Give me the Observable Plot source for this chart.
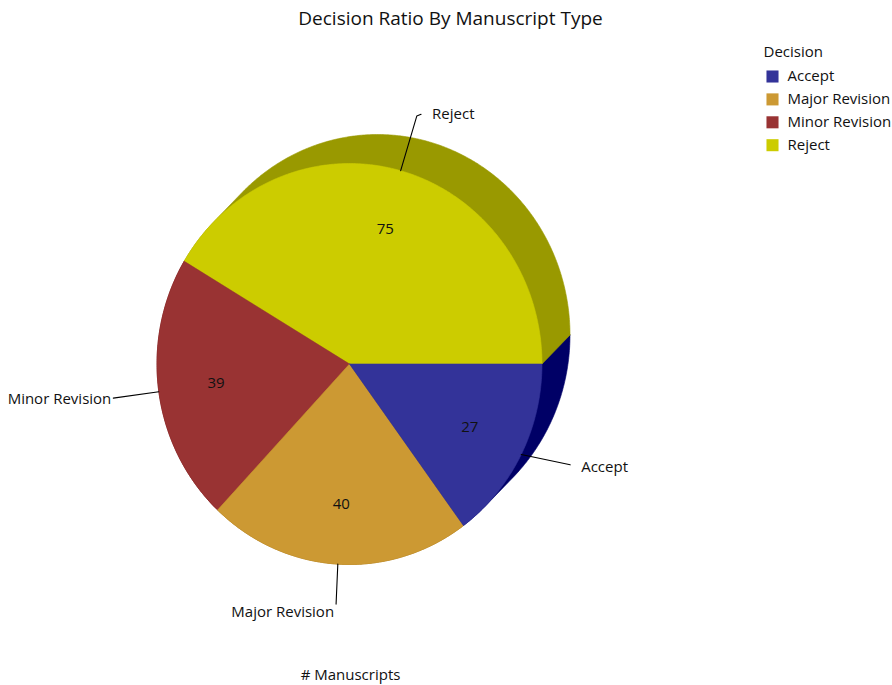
<!DOCTYPE html>
<html>
<head>
<meta charset="utf-8">
<script src="https://cdn.jsdelivr.net/npm/d3@7"></script>
<script src="https://cdn.jsdelivr.net/npm/@observablehq/plot@0.6"></script>
<style>
  body { margin: 0; background: #fff; }
  #chart svg { display: block; }
</style>
</head>
<body>
<div id="chart"></div>
<script>
// ---- data ----
const categories = ["Accept", "Major Revision", "Minor Revision", "Reject"];
const values = [27, 40, 39, 75];
const frontColors = ["#333399", "#cc9933", "#993333", "#cccc00"];
const sideColors = ["#000066", "#996600", "#660000", "#999900"];
const chartTitle = "Decision Ratio By Manuscript Type";
const legendTitle = "Decision";
const seriesLabel = "# Manuscripts";

// ---- layout ----
const W = 892, H = 685;
const cx = 349, cy = 363.5, rx = 192.5, ry = 200.5;
const depth = [28, -29];
const FONT = "'Open Sans', 'Noto Sans', sans-serif";
const FS = 15;
const leaderLayout = {
  "Reject":         {len: 57, turn: -1, hook: [4.3, -1.7], anchor: "start", tdx: 11, tdy: 0},
  "Minor Revision": {len: 46, turn: 0,  hook: [0, 0],      anchor: "end",   tdx: -2, tdy: 1.5},
  "Major Revision": {len: 40, turn: 1,  hook: [0, 0],      anchor: "end",   tdx: -2, tdy: 8.5},
  "Accept":         {len: 50, turn: 15, hook: [0, 0],      anchor: "start", tdx: 11, tdy: 2.4}
};

const rows = categories.map((c, i) => ({category: c, value: values[i], color: frontColors[i], side: sideColors[i], i}));
// slices start at 3 o'clock with Reject, going counter-clockwise
const arcs = d3.pie().sort(null).value(d => d.value)(rows.slice().reverse());
const toXY = (a, k = 1) => [cx + k * rx * Math.cos(a), cy - k * ry * Math.sin(a)];
const depthAngle = Math.atan2(-depth[1], depth[0]);

const front = [], inside = [], leaders = [], outside = [], sideGroups = [];
for (const a of arcs) {
  const span = a.endAngle - a.startAngle;
  const n = Math.max(2, Math.ceil(span / (Math.PI / 360)));
  const pts = [[cx, cy]];
  for (let k = 0; k <= n; k++) pts.push(toXY(a.startAngle + span * k / n));
  pts.push([cx, cy]);
  pts.forEach(([x, y]) => front.push({key: a.data.category, x, y, fill: a.data.color}));
  const hull = d3.polygonHull(pts.concat(pts.map(([x, y]) => [x + depth[0], y + depth[1]])));
  hull.push(hull[0]);
  const mid = (a.startAngle + a.endAngle) / 2;
  sideGroups.push({order: Math.cos(mid - depthAngle), pts: hull.map(([x, y]) => ({key: a.data.category, x, y, fill: a.data.side}))});

  const [ix, iy] = toXY(mid, 0.7);
  inside.push({x: ix, y: iy, text: String(a.data.value)});

  const L = leaderLayout[a.data.category];
  const [sx, sy] = toXY(mid);
  const dir = mid + L.turn * Math.PI / 180;
  const ex = sx + L.len * Math.cos(dir), ey = sy - L.len * Math.sin(dir);
  const hx = ex + L.hook[0], hy = ey + L.hook[1];
  leaders.push({key: a.data.category, x: sx, y: sy}, {key: a.data.category, x: ex, y: ey}, {key: a.data.category, x: hx, y: hy});
  outside.push({x: hx + L.tdx, y: hy + L.tdy, text: a.data.category, anchor: L.anchor});
}
// painter's order: side walls facing the extrusion direction are drawn last
const sides = sideGroups.sort((p, q) => p.order - q.order).flatMap(g => g.pts);

const legendRows = rows.map((d, i) => ({x: 772, y: 76 + i * 22.9, tx: 787, color: d.color, text: d.category}));

const chart = Plot.plot({
  width: W,
  height: H,
  margin: 0,
  x: {domain: [0, W], range: [0, W], axis: null},
  y: {domain: [0, H], range: [0, H], axis: null},
  color: {type: "identity"},
  style: {fontFamily: FONT, fontSize: FS + "px", background: "#fff", color: "#000"},
  marks: [
    Plot.line(sides, {x: "x", y: "y", z: "key", fill: "fill", stroke: "fill", strokeWidth: 0.6, curve: "linear"}),
    Plot.line(front, {x: "x", y: "y", z: "key", fill: "fill", stroke: "fill", strokeWidth: 0.6, curve: "linear"}),
    Plot.text(inside, {x: "x", y: "y", text: "text", fontSize: FS, fill: "#111"}),
    Plot.line(leaders, {x: "x", y: "y", z: "key", stroke: "#000", strokeWidth: 1.1}),
    Plot.text(outside.filter(d => d.anchor === "start"), {x: "x", y: "y", text: "text", textAnchor: "start", fontSize: FS, fill: "#111"}),
    Plot.text(outside.filter(d => d.anchor === "end"), {x: "x", y: "y", text: "text", textAnchor: "end", fontSize: FS, fill: "#111"}),
    Plot.text([chartTitle], {frameAnchor: "top", lineAnchor: "middle", dx: 4, dy: 18, fontSize: 19, fill: "#111"}),
    Plot.text([legendTitle], {frameAnchor: "top-left", lineAnchor: "middle", dx: 763, dy: 52, textAnchor: "start", fontSize: FS, fill: "#111"}),
    Plot.dot(legendRows, {x: "x", y: "y", symbol: "square", r: 6.8, fill: "color", stroke: null}),
    Plot.text(legendRows, {x: "tx", y: "y", text: "text", textAnchor: "start", fontSize: FS, fill: "#111"}),
    Plot.text([seriesLabel], {frameAnchor: "top-left", lineAnchor: "middle", textAnchor: "middle", dx: cx + 1, dy: 675, fontSize: FS, fill: "#111"})
  ]
});
document.getElementById("chart").appendChild(chart);
</script>
</body>
</html>
